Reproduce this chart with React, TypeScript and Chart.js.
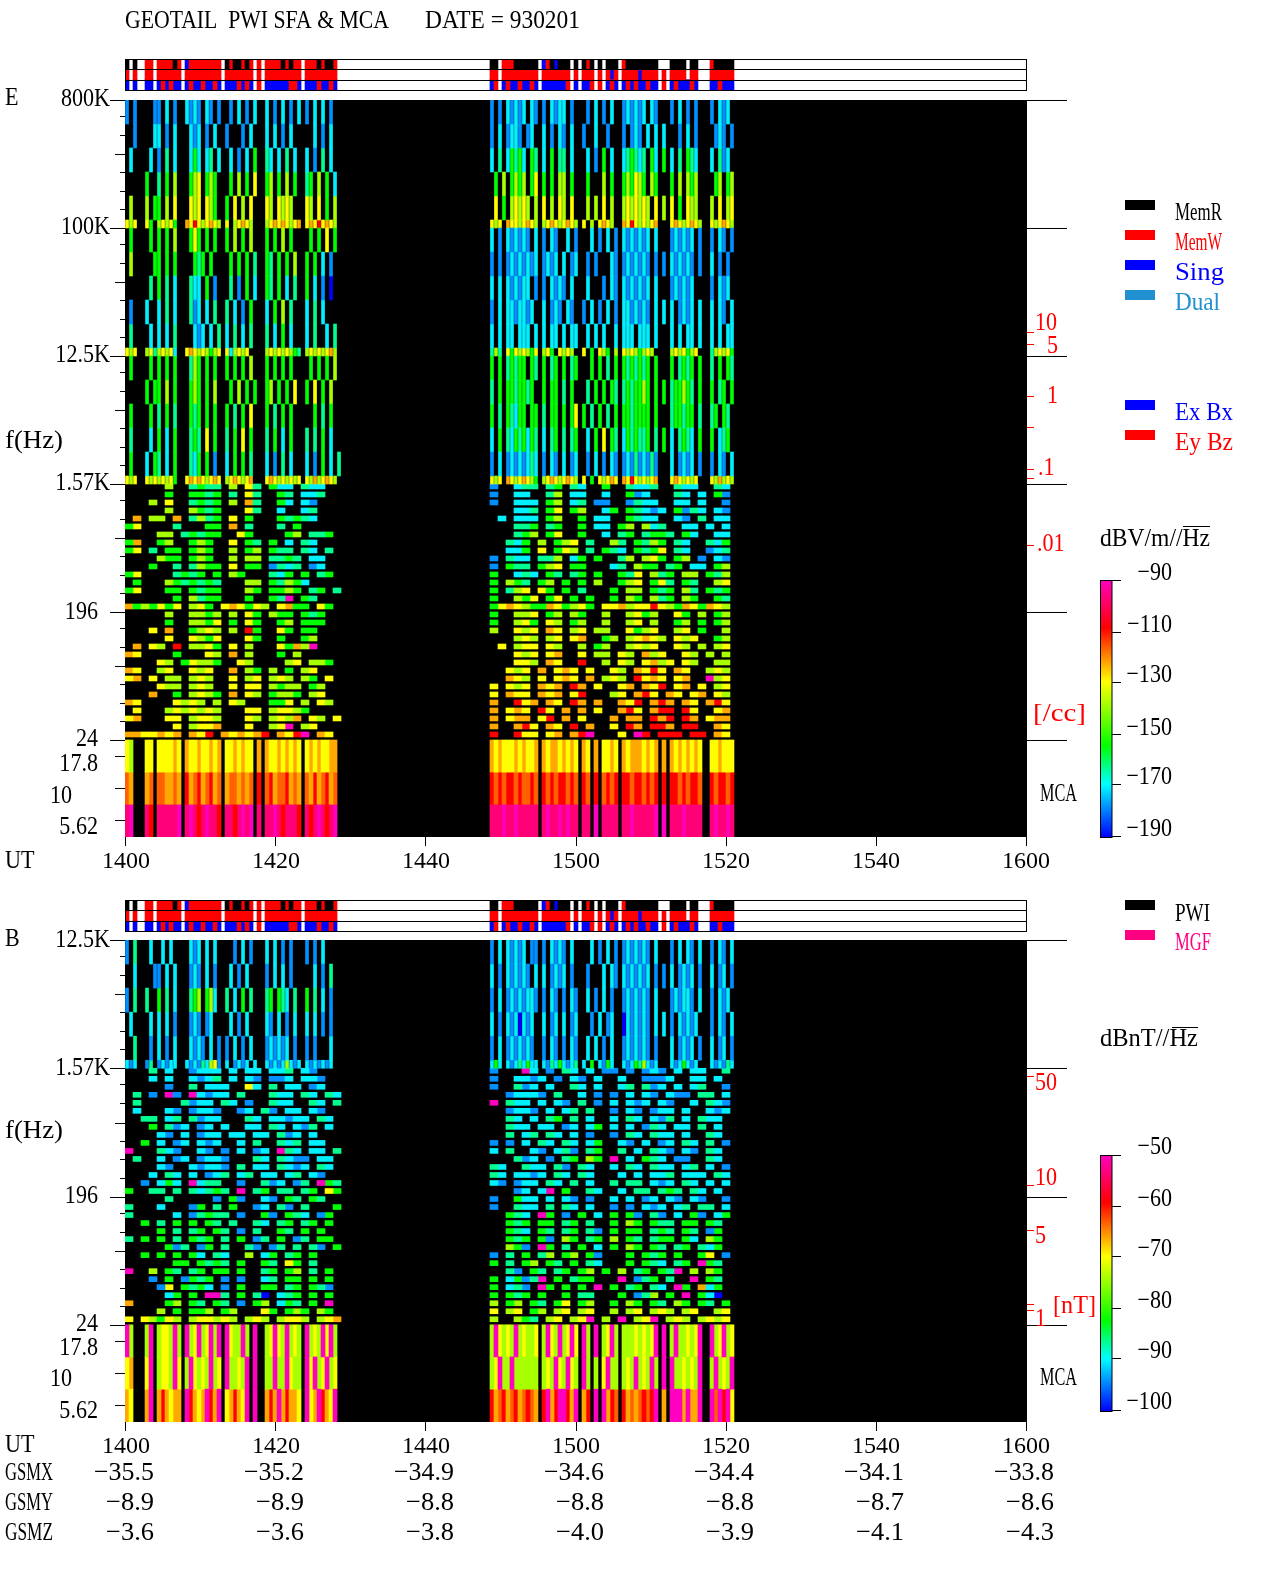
import React, { useEffect, useRef } from "react";
import { Chart, registerables } from "chart.js";
Chart.register(...registerables);

const utTicks = [0, 20, 40, 60, 80, 100, 120];
const utLabels = ["1400", "1420", "1440", "1500", "1520", "1540", "1600"];
const gsmX = ["−35.5", "−35.2", "−34.9", "−34.6", "−34.4", "−34.1", "−33.8"];
const gsmY = ["−8.9", "−8.9", "−8.8", "−8.8", "−8.8", "−8.7", "−8.6"];
const gsmZ = ["−3.6", "−3.6", "−3.8", "−4.0", "−3.9", "−4.1", "−4.3"];

// minutes after 1400 at which the two recorded intervals begin
const windowStarts = [-0.13, 48.53];

const palette: Record<string, string> = {
  b: "#0000ff", a: "#0090ff", c: "#00f0ff", t: "#00ff90", g: "#00ff00", l: "#a8ff00",
  y: "#ffff00", o: "#ffa800", d: "#ff6000", r: "#ff0000", p: "#ff0078", m: "#ff00c0", k: "#000000",
};

const statusW1 = [
  "k.k .. rr. rrrrkr . brrrrrrrr . krkkrkr.r . rrrrkrkrr . rrrkrkkr.",
  "r.r .. rr. rrrrrr . rrrrrrrrr . rrrrrrr.r . rrrrrrrrr . rrrrrrrr.",
  "b.b .. bb. brbrbb . brbbrbbrb . bbbrbrb.r . bbbbbbrrb . bbbrbbrb.",
];
const statusW2 = [
  "kk.rrrkkkkkk . brkbk kk.k . krk.k.kkk . rkkkkkkkk . . . kkkk.kk. .. rkkkkk",
  "rr.rrrrrrrrr . rrrrr rr.r . rrr.r.rbr . rrrrbrrrr . r . rrrr.rr. .. rrrrrr",
  "br.brbbrbbrb . bbbbb br.b . bbr.r.brb . brbrbbrbb . r . brbbbrb. .. bbrbbb",
];

const eUpperW1 = [
  "a.a .. ..a a.c.a. . caca.ca.a . .a.c.a.c. . c.a.c.a.c . a.c.c.a..",
  "..a .. ..c c.a.c. . .cac.a.c. . a...a.c.. . c.c.a.c.. . ..c.a.c..",
  ".c. .. .c. a.t.c. . .cgc.ct.c . .c.a.c.g. . tc.c.t.c. . c.a.t.c..",
  "... .. g.. t.g.l. . .gly.glg. . .g.l.g.y. . gl.g.l.g. . tg.l.g.c.",
  ".l. .. l.g g.l.y. . .yly.ylg. . g.y.l.y.. . yl.ylyl.. . yl.y.g.l.",
  "yly .. yg. lylyg. . oyrylyoyl . y.lyoyl.. . lyoyoylyo . yoyryoyl.",
  ".g. .. .g. g.g.l. . .gyg.g.g. . g.l.g.l.. . g.g.l.g.. . .g.g.y.g.",
  ".l. .. ..g g.g.g. . ..gtg.g.. . .g.g.g.t. . gt.g.g.l. . g.g.c.a..",
  "... .. .t. g.t.c. . .tcc.g.a. . .t.a.g.c. . gt.g.c.t. . g.c.a.b..",
  ".a. .. c.. c.t.c. . .tac.c.t. . t.c.a.g.. . c.g.l.t.. . c.t.c....",
  ".t. .. .c. c.c.t. . ..cac.c.t . c.t.c.t.. . t.c.g.c.. . c.t..c.t.",
  "yly .. lyt lylyc. . yoylylgly . yclyly... . lylylylgt . lylylyol.",
  ".g. .. .g. g.g.g. . .tlg.g.g. . g.g.g.l.. . g.g.g.g.. . .g.g.g.l.",
  "... .. g.g g.l.g. . .glg.g.l. . .g.l.g.g. . gl.g.g.y. . g.y.g.l..",
  ".g. .. .g. t.g.t. . .gtg.g.g. . g.t.g.y.. . g.t.g.g.. . ..g.t.g..",
  ".t. .. .c. g.c.g. . .tgt.y.g. . t.g.y.g.. . t.g.c.g.. . t.t.g.c..",
  ".g. .. c.g t.c.g. . .tcg.g.a. . c.g.g.t.. . c.a.t.c.. . c.a.g.c.t",
  "yly .. yly lylyg. . yoyoylyoy . lyoylyo.. . yoylylyly . ylolyoyl.",
];
const eUpperW2 = [
  "a.a.cacac.ca . a.cac c.a. . .a.c.a.c. . acacac.ca . . . a.c.a.a. .. a.cac.",
  "a.c.acca.ac. . c.a.c a.c. . a..c..a.. . a.aca.c.c . c . ..a.c.a. .. .aca.a",
  "c.t.cgtgc.gt . c.g.t t.c. . .c.a.g.c. . ctgtct.gc . g . c.t.gtc. .. c.tac.",
  ".g.l.glgl.gy . g.g.l l.g. . .g...l.g. . glgylg.lg . . . g.l.lgl. .. .gl.gl",
  ".y.g.lylyl.l . y.l.y l.y. . .l.l.y.l. . lylylyl.y . l . y.g.yll. .. l.y.ly",
  "yly.oyylyoyl . lyoyl yoyl . y.l.yoyl. . oyrylylyo . . . yoylyoyl .. ylyoyl",
  "c.a.cacaca.c . a.ca. .c.a . ..c.a.c.a . cacacac.c . . . acacac.a .. a.ca.a",
  "a.a.acacacac . acac. c.ac . .a.a...ca . acacaca.a . a . cacaca.a .. c.a.a.",
  "c.c.cacacc.a . a.cac a.c. . .c...a.ca . cacacac.c . . . acacac.. .. a.cac.",
  "a.c.ccaccac. . c.aca .ca. . a.c.a.c.a . ccacaca.c . c . c.acac.c .. c.ca.c",
  "c.c.cc.ccc.c . c.cc. c.cc . .c.c.c..c . ccc.ccc.c . . . c.c.cc.c .. c.c.cc",
  "tlt.ygylylgy . lyg.y lyl. . y.g.ylg.l . ylylglyl. . . . lylygly. .. tlylyg",
  "g.g.tgtgg.gt . g.tg. g.tg . ..g.g.t.g . gtgtgtg.g . . . g.tgtg.g .. t.g.gt",
  "t.g.ggtggtg. . g.gg. t.g. . .t.g.g.gt . tgtgglg.g . g . tgglgt.g .. g.tg.g",
  "g.t.gtcgg.gg . t.gg. g.gy . g.t.g.t.g . ggtgggg.g . . . tggtgg.t .. tg.gt.",
  "c.g.tcgtgcgt . c.tg. t.tg . .c.g.y.gt . cgtgttg.t . g . c.tgtc.g .. g.ctg.",
  "a.c.acacactc . a.ca. c.ac . .a.c.a.ca . acatacata . . . c.acac.a .. a.ca.c",
  "yly.oylyoylg . lyoyl yoyl . y.g.ylyoy . oyrylylyo . . . yoylyly. .. ylolyl",
];
const eLowerW1 = [
  ".....l..tgtt.l.yt.gcc.tcc..", ".....g..ggtg.t.yt..gt.cct..", "...l.y..tgtg.l.ot..gc.ca...",
  ".....l..lgtg...yt..c..ct...", ".o.ll.o.tltg.y.g...gtgtc...", "gy....t...gg.o.t...t.g.....",
  "....ll.tgtgg..yg....gl.ttg.", "go..gl..glg..y.gt.g.c.tc...", "gy.t.gg.glg..l.gl.gtt.tc.t.",
  "....lgg.glg..l.ll.ttgt.cc..", "...g..t.tlgg.y.gg.atct.ac..", "gy....tgtg.g.lg...tcg.g.tg.",
  ".g...lgtgtgt...ll.gtlgc....", "gy...gg.gtgg...lg.gglg.tg.t", "......g.ltgg...g..gtm.gt...",
  "oglgygy.lyg.yoygyl.yogg.yg.",
  ".....l..llgl.l.yg.lgg.gtg..", ".....g..llgy.g.yg..gl.ggg..", "...y.o..glyl.l.rg..yg.gg...",
  ".....y..ylgy...yg..g..gl...", ".o.yl.r.llyg.y.l...ygolm...", "oy....g...yl.o.l...g.l.....",
  "....yl.gyllg..yl....ly.llg.", "oy..ly..yly..o.lg.l.g.ly...", "yo.y.ll.lyl..y.ly.lyl.lg.y.",
  "....yll.lyl..y.yy.lgll.gl..", "...o..g.lylg.o.yl.gllg.ly..", "oy....ylyl.l.yl...ggy.l.yl.",
  ".y...lylylyl...yy.lyylg....", "yo...yy.lyyl...yl.lylo.yl.y", "......y.lyyo...y..lym.ly...",
  "ooyyoyo.oyr.oyoyor.oyrm.oy.",
];
const eLowerW2 = [
  "a..ctt.tg.tc..g..tcct..tcc..tc", "a..cc..tl.cc..c..gac...tc.c.ga", "a..ccc.gl.ct.aa..atcc..cc.c..a",
  "...cct.gy.gl..cg.gtcac.gatc.ca", ".c.ccc.gl..g.cc..gtcc..ca.t.cc", "...ttg.tg..g.cc.gl.lct..cc.c.c",
  "...tgl.gy..g..c.tg.tggt.gc..cc", "..tcg.l.gly.t..lt.gtlg.tc..tcg", "..ccg.y.gyl.t.gtc.gtgy.tc..act",
  "a.tcc.ttl.cg.g..tl.lyg.gl.a.ca", "a.gtt.gly.gg...ct.lgg.tg.cc.gl", "g..ctc.gt.tg.g..gty.ltg.ll.gtl",
  "g.lgt.gl.g.g.l..gly.gyt.gt..ly", "g.tly.yg.g.t...g.ll.gtg.lt.gtg", "g..lgy.gy.g.g..g.lg.ltg.lg..gt",
  "gyoylggoyglyg.yyolyyrylgoygoyl",
  "g..lly.gl.lg..l..lygl..yg.l.gl", "g..lyg.yl.gl..l..ly.l..gl.g.gl", "l..yly.oy.ly.ll..ygly..ly.g..l",
  "...lyl.ly.yo..gl.lyoyl.yly..gl", ".y.lyy.yl..l.gl..lyly..yl.l.ly", "...yly.yo..y.ll.yl.oly..yl.l.l",
  "...yyl.oy..r..l.yl.yoly.yl..ll", "..yly.o.yoy.y..yl.oyry.oy..lyl", "..oyl.y.yoy.o.lyl.ryoy.yo..mly",
  "y.yly.oyo.ro.y..yo.oyr.yo.y.ly", "y.oyy.oyo.yr...ly.ory.oy.yo.yl", "o..ryo.oy.ro.o..oyr.oro.oy.ory",
  "o.yoy.ry.o.o.y..ory.orr.ry..yo", "o.yoo.yr.o.y...o.oo.ror.ro.yoo", "o..ory.oy.r.o..y.ro.rro.rr..oy",
  "r..ryy.yo.orm...y.mr.rrr.rr.oy",
];
const eMcaW1 = [
  "yl. .. yy. yyyyoy . oyyoyyoyo . yyoyoyy.o . oyyoyoyoy . yoyoyyoo.",
  "do. .. od. ddoodo . rodrodrod . oddodod.r . droddrodo . dorodrod.",
  "pm. .. pr. pppppm . pmprpmppr . pprpmpm.p . ppmprpppr . prpmprpm.",
];
const eMcaW2 = [
  "oyoyyyoyoyyo . oyooy oyoy . oy.o.yyoy . oyoooyoyo . o . oyoyoyoy .. yyoyyy",
  "rdrdrrdrddrd . rdrdr rdrd . rd.r.drdr . rrdrrdrdr . r . rrdrdrrd .. rdrrdr",
  "pppmppmppppp . pmppm pmpp . pp.m.pppp . ppmpppppm . m . pppmpppp .. pmppmp",
];

const bUpperW1 = [
  "a.t .. .c. .c.c.. . .cac.c.c. . ..a.c.a.. . c.c.a.a.. . a.a.c....",
  "..c .. ..a a.c.c. . .aca.c.a. . .c.a.c... . a.c.c.a.. . ..c.a.t..",
  "a.t .. t.. g.t.c. . .tgl.glc. . t.c.g.t.. . tg.gtc.t. . g.t.c.a..",
  ".c. .. .c. c.c.a. . .aca.ac.. . .c.a.c... . ca.c.a.c. . c.c.a.a..",
  "..t .. .a. c.a.c. . .caca.c.a . a.c.a.c.. . acacac.a. . a.a...c..",
  "cac .. at. acacc. . cacatclya . c.acac.c. . cacaclcac . cacacac..",
];
const bUpperW2 = [
  "a.c.cacac.aa . a.cac a.c. . ..c.a.c.a . acacaca.c . . . a.c.ca.c .. a.ca.c",
  "c.a.cacaca.c . c.aca c.a. . .a...c.ca . cacacac.a . a . c.acac.a .. c.ac.a",
  "a.c.acacacca . a.ca. a.ca . .c.a.c.a. . acacaca.c . . . acacca.c .. a.cac.",
  "c.a.cacbcac. . c.ac. c.ac . ..a.c.ac. . bcacaca.c . c . a.cacac. .. a.ca.c",
  "a.c.acacaca. . a.ca. a.ca . .c.c.a.c. . acacaca.a . . . c.acac.a .. c.ac.a",
  "cgc.cactcgcc . catcg cact . c.g.cagc. . cacgtlcac . . . cacgcac. .. cacatc",
];
const bLowerW1 = [
  "...t.c..accc.c.cc.cct.ca...", "...c.c..cact.c.ca.aac.cca..", ".....a..t.ccc..yc.t.cc.ac..",
  ".t.a.ma.mcacc.t...tcc.tc.tc", ".t.....tacc.tc.a..tcc..tc.t", ".c...ca.acca..ac.ta.cc.ca..",
  "..tt.ct.tacc...tc.ccacc.tc.", "...g.tac.ac.c..cc.tc.cat.c.", "....ca.c.acc.cc.cc.tac.c...",
  "..g.c.ac.cac..c.t..tct.cc..", "m...tca..ca.a.c.ac.mtc.cc.t", ".t..c.ac.acca...tc.tcaa.cc.",
  "....ca..cacca.t.cc.tcac.tc.", "...c.tc.c.act.ct.cc.ct.ca..", "..a.cgc.mctt..a..tac.at.mgt",
  "g..tt.t.tctgt.m.tg.tt.tg.yg",
  ".....t.....a.ga..ca.gt.gt..", "t...c...ag.t.g..ac.ta.t...g", "t.....c.atgtt.a..ga.gtc.ag.",
  "..g.t.g.g.gt.t..tc.tg.tg.g.", "....g.t.tg.gt.a.t..gt.g.g..", "t.g.g.t.gtg.t.g.at.g.at.gg.",
  ".....gat.ag.t..ta.at.t.ta.g", "..g.g.g.gc.tc..l.cg.tg.g...", "......gg.gtgt.g..gt.yg.t...",
  "m..l.gt.tg.gg.g..tg.gl.t.g.", "...a.g.agtg.a.a..ct.gg.g.g.", "....ay.gtgc.a.g..gg.tg.gta.",
  ".....cg.g.mmt.g.tb.ctg.g.g.", "o....gl.gt.gt.a.gl.cgt.g.m.", "....l.g.ggl.gl...yg.glg.lg.",
  "y.ylgyl.lyylyl.lyl.lyyl.lyo",
];
const bLowerW2 = [
  "a...mc.a.tc.c.aa.a.aca.c.cc..t", "a..ccac.a.ca.c..c..aaac..cc.c.", "a..tac.c..tc.c..ct.tac.c.ct..a",
  "..accca.t..c.a.a.c.ca.caa.tt.c", "m.tcc.c.ca.t.a.c.cac.ca..c.tca", "..acca.c.ct.t..a.ca.acc.c..cac",
  "..tc.c.tg.t.c..c.tc.cat.c.tcc.", "..tcc.cc.ac.cg.c.c.atc.cc.t.c.", "..t.ct.tc.c.a..a.tc.tcc.c..tc.",
  "a.a.c.tc.tc.cg..ca.c.ac.tc.t.a", "c.t..ca.cta.tg..t.c.tca.ca.tc.", "...tac.a.tg.lg.m.c.gtc.aa..tc.",
  "tc..tcc.ta.tc..c.tc.tcc.ct.c.a", "tc.ccac.tc.tc...c.c.cct.ccc.tc", "ca.acc.tc.t.c..t.tt.cac.tc.c.c",
  "...ac.cm.g..tc..c.tt.tgt.tc.c.",
  "a..gcc.c.ca.a..c.c.ac.ca.ca..a", "a..tcc.t.tc.c..a.a.cac.ct.tt.c", "..gtc.mg.a.g.c.g.ga.ta.c.ga.cg",
  "..gtg.gg.tg.t..g.lg.gtt.gg.gt.", "..gtc.gt.tg.ta.g.gg.tgt.gt.ag.", "..gtg.ga.lg.tg.l.gt.tgg.gc.lg.",
  "..lga.mg.t.g.c.g.lg.gt.tg.tcg.", "a.t.g.tl.gl.ga...g.gtg.g..gy.a", "g.t.gl.gt.g.tc...g.gtc.tg.mgt.",
  "..ta.gt.tg.gl.g.l.tg.gtm.l.lg.", "g.cgatm.g.tgg...m.atg.t..m.gt.", "g.cta.mg.g.g.m.g.tg.tc.mg.ocg.",
  "g.gtg.g..g.tt...g.atl.g.m.gcb.", "l.gl.gt.gy.gl..g.lg.gt.lg.gt.g", "y.ly.gl.ly.ly..l.ly.lyl.ly..ly",
  "l..lgt.ly.lym.l.m.lym.lyl.lyly",
];
const bMcaW1 = [
  "ml. .. lm. lyylml . mlymlymlm . myllml.m. . lymylmlyl . mlylmyml.",
  "yo. .. ym. lyylmy . lmylylmly . mllylm.m. . llmllmyll . mymlymly.",
  "oy. .. om. oroyoo . mroyomrom . yoroym.m. . oromorooy . myomroym.",
];
const bMcaW2 = [
  "lmylylmlylly . lmylm lymy . ml.m.lyml . lllylylym . m . lmllylym .. mlymly",
  "lymllmllllll . lylmy lmyl . ml.l.ymll . lylmlylml . m . mllylylm .. lmlylm",
  "rodrodrodrdo . rmorm mrom . or.m.mord . rododrdrm . o . mmmomoom .. mdmrmy",
];

const mcaEdges = [24.41, 14.5, 8.6, 5.05];
const minorRatios = [0.771, 0.566, 0.415, 0.31, 0.228, 0.17];
const mcaTicks = [18.8, 11.2, 6.7];
const eRedTicks = [18470, 15180, 6526, 3945, 1995, 1724, 580];
const bRedTicks = [1380, 236, 114, 34, 31];
const FREQ_FLOOR = 5.05;

const FONT = "Liberation Serif";
const STEP_FINE = 8 / 15; // minutes per 4 px column
const STEP_COARSE = 16 / 15; // minutes per 8 px column

type Cell = { x: number; y: [number, number] };

function addGrid(
  sets: Map<string, { color: string; thick: number; data: Cell[] }>,
  rows: string[],
  win: number,
  step: number,
  thick: number,
  range: (r: number) => [number, number],
) {
  rows.forEach((raw, r) => {
    const row = raw.replace(/ /g, "");
    for (let j = 0; j < row.length; j++) {
      const ch = row[j];
      if (!palette[ch]) continue;
      const key = ch + thick;
      if (!sets.has(key)) sets.set(key, { color: palette[ch], thick, data: [] });
      sets.get(key)!.data.push({ x: windowStarts[win] + (j + 0.5) * step, y: range(r) });
    }
  });
}

function toDatasets(sets: Map<string, { color: string; thick: number; data: Cell[] }>) {
  return [...sets.values()].map((s) => ({
    type: "bar" as const,
    data: s.data,
    backgroundColor: s.color,
    barThickness: s.thick,
    grouped: false,
    borderWidth: 0,
  }));
}

function spectro(top: number, upperBands: number, upper: string[][], lower: string[][], mca: string[][]) {
  const sets = new Map<string, { color: string; thick: number; data: Cell[] }>();
  const f = (v: number) => top / Math.pow(8, v);
  const upperRange = (r: number): [number, number] => {
    const b = Math.floor(r / 6);
    const k = r % 6;
    const a = k < 5 ? (k * 24) / 128 : 120 / 128;
    const e = k < 5 ? ((k + 1) * 24) / 128 : 1;
    return [f(b + e), f(b + a)];
  };
  const lowerRange = (r: number): [number, number] => [
    f(upperBands + (r + 0.62) / 16),
    f(upperBands + r / 16),
  ];
  const mcaRange = (r: number): [number, number] => [mcaEdges[r + 1], mcaEdges[r]];
  [0, 1].forEach((w) => {
    addGrid(sets, upper[w], w, STEP_FINE, 3, upperRange);
    addGrid(sets, lower[w], w, STEP_COARSE, 8, lowerRange);
    addGrid(sets, mca[w], w, STEP_FINE, 4, mcaRange);
  });
  return toDatasets(sets);
}

type T = [string, number, number, CanvasTextAlign, string?, number?];

function drawTexts(ctx: CanvasRenderingContext2D, items: T[], size = 26) {
  ctx.save();
  ctx.font = `${size}px "${FONT}"`;
  ctx.textBaseline = "middle";
  for (const [s, x, y, al, col, width] of items) {
    const w = ctx.measureText(s).width;
    const sx = width ? width / w : 0.85;
    ctx.save();
    ctx.translate(x, y);
    ctx.scale(sx, 1);
    ctx.textAlign = al;
    ctx.fillStyle = col || "#000";
    ctx.fillText(s, 0, 0);
    ctx.restore();
  }
  ctx.restore();
}

const RED = "#ff0000";

const eTexts: T[] = [
  ["GEOTAIL  PWI SFA & MCA", 125, 21, "left", "#000", 264],
  ["DATE = 930201", 425, 21, "left", "#000", 155],
  ["E", 5, 98, "left"],
  ["800K", 110, 99, "right"], ["100K", 110, 227, "right"], ["12.5K", 110, 355, "right"],
  ["f(Hz)", 5, 441, "left", "#000", 58], ["1.57K", 110, 483, "right"], ["196", 98, 612, "right"],
  ["24", 98, 739, "right"], ["17.8", 98, 764, "right"], ["10", 50, 796, "left"], ["5.62", 98, 827, "right"],
  ["UT", 5, 861, "left"],
  ["10", 1035, 323, "left", RED], ["5", 1047, 346, "left", RED], ["1", 1047, 396, "left", RED],
  [".1", 1038, 468, "left", RED], [".01", 1037, 544, "left", RED], ["[/cc]", 1033, 714, "left", RED, 53],
  ["MCA", 1040, 794, "left", "#000", 37],
  ["MemR", 1175, 213, "left", "#000", 47], ["MemW", 1175, 243, "left", RED, 47],
  ["Sing", 1175, 273, "left", "#0000ff", 49], ["Dual", 1175, 303, "left", "#2090d0", 45],
  ["Ex Bx", 1175, 413, "left", "#0000ff", 58], ["Ey Bz", 1175, 443, "left", RED, 58],
  ["dBV/m//Hz", 1100, 539, "left", "#000", 110],
  ["−90", 1172, 573, "right"], ["−110", 1172, 625, "right"], ["−130", 1172, 675, "right"],
  ["−150", 1172, 728, "right"], ["−170", 1172, 777, "right"], ["−190", 1172, 829, "right"],
];
const B_Y = 880;
const bTexts: T[] = [
  ["B", 5, 939, "left"],
  ["12.5K", 110, 940, "right"], ["1.57K", 110, 1068, "right"], ["f(Hz)", 5, 1131, "left", "#000", 58],
  ["196", 98, 1196, "right"], ["24", 98, 1324, "right"], ["17.8", 98, 1348, "right"],
  ["10", 50, 1379, "left"], ["5.62", 98, 1411, "right"],
  ["UT", 5, 1445, "left"], ["GSMX", 5, 1473, "left", "#000", 48], ["GSMY", 5, 1503, "left", "#000", 48],
  ["GSMZ", 5, 1533, "left", "#000", 48],
  ["50", 1035, 1083, "left", RED], ["10", 1035, 1178, "left", RED], ["5", 1035, 1236, "left", RED],
  ["1", 1035, 1319, "left", RED], ["[nT]", 1053, 1306, "left", RED, 43], ["MCA", 1040, 1378, "left", "#000", 37],
  ["PWI", 1175, 914, "left", "#000", 35], ["MGF", 1175, 943, "left", "#ff0080", 36],
  ["dBnT//Hz", 1100, 1039, "left", "#000", 98],
  ["−50", 1172, 1147, "right"], ["−60", 1172, 1199, "right"], ["−70", 1172, 1249, "right"],
  ["−80", 1172, 1301, "right"], ["−90", 1172, 1351, "right"], ["−100", 1172, 1402, "right"],
];

function hLine(ctx: CanvasRenderingContext2D, x0: number, x1: number, y: number, color = "#000") {
  ctx.fillStyle = color;
  ctx.fillRect(x0, Math.round(y), x1 - x0, 1);
}

function colorbar(ctx: CanvasRenderingContext2D, top: number, bottom: number, ticks: number[]) {
  const g = ctx.createLinearGradient(0, bottom, 0, top);
  const stops: [number, string][] = [
    [0, "#0000ff"], [0.206, "#00ffff"], [0.354, "#00ff00"], [0.604, "#ffff00"], [0.814, "#ff0000"], [1, "#ff00c0"],
  ];
  stops.forEach(([p, c]) => g.addColorStop(p, c));
  ctx.fillStyle = g;
  ctx.fillRect(1100, top, 12, bottom - top);
  ctx.strokeStyle = "#000";
  ctx.lineWidth = 1;
  ctx.strokeRect(1100.5, top + 0.5, 11.5, bottom - top);
  ticks.forEach((y) => hLine(ctx, 1112, 1121, y));
}

function legendBar(ctx: CanvasRenderingContext2D, y: number, color: string) {
  ctx.fillStyle = color;
  ctx.fillRect(1125, y, 30, 10);
}

function panelPlugin(opts: {
  top: number;
  offsetY: number;
  texts: T[];
  redTicks: number[];
  bars: [number, string][];
  cbar: [number, number, number[]];
  overline: [number, number, number];
  gsm?: boolean;
}) {
  return {
    id: "panel",
    beforeDatasetsDraw(chart: any) {
      const { ctx, chartArea: a } = chart;
      ctx.fillStyle = "#000";
      ctx.fillRect(a.left, a.top, a.right - a.left, a.bottom - a.top);
    },
    afterDraw(chart: any) {
      const { ctx, chartArea: a } = chart;
      const y = chart.scales.y;
      const bands: number[] = [];
      for (let f = opts.top; f > 20; f /= 8) bands.push(f);
      bands.forEach((f, i) => {
        const p = y.getPixelForValue(f);
        hLine(ctx, a.left - 15, a.left, p);
        hLine(ctx, a.right, a.right + 40, p);
        if (i < bands.length - 1) {
          minorRatios.forEach((r, k) => {
            hLine(ctx, a.left - (k === 2 ? 10 : 5), a.left, y.getPixelForValue(f * r));
          });
        }
      });
      mcaTicks.forEach((v) => hLine(ctx, a.left - 10, a.left, y.getPixelForValue(v)));
      opts.redTicks.forEach((v) => hLine(ctx, a.right, a.right + 7, y.getPixelForValue(v), RED));
      ctx.save();
      ctx.translate(0, -opts.offsetY);
      opts.bars.forEach(([yy, c]) => legendBar(ctx, yy, c));
      colorbar(ctx, opts.cbar[0], opts.cbar[1], opts.cbar[2]);
      hLine(ctx, opts.overline[0], opts.overline[1], opts.overline[2]);
      drawTexts(ctx, opts.texts);
      if (opts.gsm) {
        const x = chart.scales.x;
        [gsmX, gsmY, gsmZ].forEach((col, r) => {
          drawTexts(
            ctx,
            col.map((s, i) => [s, x.getPixelForValue(utTicks[i]) + 28, 1473 + r * 30, "right", "#000", (s.length > 4 ? 60 : 48)] as T),
          );
        });
      }
      ctx.restore();
    },
  };
}

function xAxis(height: number) {
  return {
    type: "linear",
    min: -0.133,
    max: 120.133,
    offset: false,
    afterBuildTicks: (s: any) => {
      s.ticks = utTicks.map((v) => ({ value: v }));
    },
    afterFit: (s: any) => {
      s.height = height;
    },
    ticks: {
      autoSkip: false,
      maxRotation: 0,
      color: "#000",
      padding: 1,
      font: { family: FONT, size: 24 },
      callback: (_: any, i: number) => utLabels[i],
    },
    grid: { drawOnChartArea: false, tickLength: 9, tickColor: "#000", offset: false, color: "#000" },
    border: { display: false },
  };
}

function makePanel(
  canvas: HTMLCanvasElement,
  top: number,
  padTop: number,
  xHeight: number,
  datasets: any[],
  plugin: any,
) {
  return new Chart(canvas, {
    type: "bar",
    data: { datasets },
    options: {
      animation: false,
      responsive: false,
      devicePixelRatio: 1,
      events: [],
      parsing: undefined,
      layout: { padding: { left: 125, right: 253, top: padTop, bottom: 0 } },
      plugins: { legend: { display: false }, tooltip: { enabled: false } },
      scales: {
        x: xAxis(xHeight),
        y: { type: "logarithmic", min: FREQ_FLOOR, max: top, display: false },
      },
    } as any,
    plugins: [plugin],
  });
}

function makeStatus(canvas: HTMLCanvasElement) {
  const sets = new Map<string, { color: string; thick: number; data: Cell[] }>();
  const range = (r: number): [number, number] => [2 - r, 3 - r];
  addGrid(sets, statusW1, 0, STEP_FINE, 4, range);
  addGrid(sets, statusW2, 1, STEP_FINE, 4, range);
  return new Chart(canvas, {
    type: "bar",
    data: { datasets: toDatasets(sets) },
    options: {
      animation: false,
      responsive: false,
      devicePixelRatio: 1,
      events: [],
      layout: { padding: { left: 125, right: 253, top: 0, bottom: 1 } },
      plugins: { legend: { display: false }, tooltip: { enabled: false } },
      scales: {
        x: { type: "linear", min: -0.133, max: 120.133, display: false, offset: false, grid: { offset: false } },
        y: { type: "linear", min: 0, max: 3, display: false },
      },
    } as any,
    plugins: [
      {
        id: "statusBox",
        afterDraw(chart: any) {
          const { ctx, chartArea: a } = chart;
          const y = chart.scales.y;
          [0, 1, 2, 3].forEach((v) => hLine(ctx, a.left, a.right, Math.min(y.getPixelForValue(v), a.bottom)));
          ctx.fillStyle = "#000";
          ctx.fillRect(a.left, a.top, 1, a.bottom - a.top);
          ctx.fillRect(a.right - 1, a.top, 1, a.bottom - a.top);
        },
      },
    ],
  });
}

const abs = (top: number): React.CSSProperties => ({ position: "absolute", left: 0, top, display: "block" });

export default function App() {
  const eRef = useRef<HTMLCanvasElement>(null);
  const bRef = useRef<HTMLCanvasElement>(null);
  const s1Ref = useRef<HTMLCanvasElement>(null);
  const s2Ref = useRef<HTMLCanvasElement>(null);
  useEffect(() => {
    document.body.style.margin = "0";
    const charts = [
      makePanel(
        eRef.current!, 800000, 100, 43,
        spectro(800000, 3, [eUpperW1, eUpperW2], [eLowerW1, eLowerW2], [eMcaW1, eMcaW2]),
        panelPlugin({
          top: 800000, offsetY: 0, texts: eTexts, redTicks: eRedTicks,
          bars: [[200, "#000"], [230, "#ff0000"], [260, "#0000ff"], [290, "#2090d0"], [400, "#0000ff"], [430, "#ff0000"]],
          cbar: [580, 837, [580, 632, 682, 734, 784, 836]],
          overline: [1183, 1210, 526],
        }),
      ),
      makePanel(
        bRef.current!, 12500, 60, 171,
        spectro(12500, 1, [bUpperW1, bUpperW2], [bLowerW1, bLowerW2], [bMcaW1, bMcaW2]),
        panelPlugin({
          top: 12500, offsetY: B_Y, texts: bTexts, redTicks: bRedTicks,
          bars: [[900, "#000"], [930, "#ff0080"]],
          cbar: [1155, 1411, [1155, 1206, 1256, 1308, 1358, 1410]],
          overline: [1172, 1198, 1027],
          gsm: true,
        }),
      ),
      makeStatus(s1Ref.current!),
      makeStatus(s2Ref.current!),
    ];
    return () => charts.forEach((c) => c.destroy());
  }, []);
  return (
    <div style={{ position: "relative", width: 1280, height: 1593, background: "#fff" }}>
      <canvas ref={eRef} width={1280} height={880} style={abs(0)} />
      <canvas ref={bRef} width={1280} height={713} style={abs(B_Y)} />
      <canvas ref={s1Ref} width={1280} height={32} style={abs(59)} />
      <canvas ref={s2Ref} width={1280} height={32} style={abs(900)} />
    </div>
  );
}
